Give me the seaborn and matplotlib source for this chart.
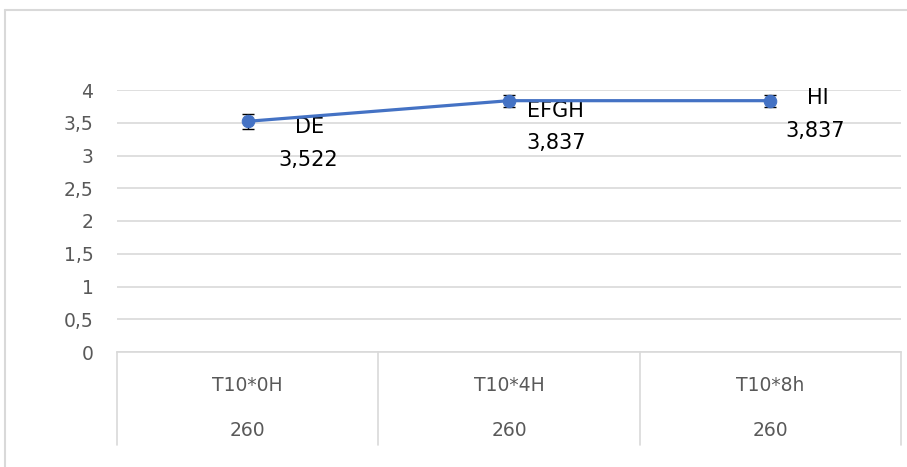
import numpy as np
import matplotlib
matplotlib.use("Agg")
import matplotlib.pyplot as plt
import matplotlib.transforms as mtransforms
from matplotlib.lines import Line2D
from matplotlib.ticker import FuncFormatter, MultipleLocator
import seaborn as sns

# --- data ---
treatments = ["T10*0H", "T10*4H", "T10*8h"]
counts = ["260", "260", "260"]
means = [3.522, 3.837, 3.837]
errors = [0.11, 0.09, 0.09]
groups = ["DE", "EFGH", "HI"]

# label offsets in pixels (name, value) relative to each point
name_offsets = [(62, -6), (46, -10), (47, 3)]
value_offsets = [(61, -39), (47, -42), (45, -30)]

sns.set_theme(style="white")
plt.rcParams["font.family"] = ["DejaVu Sans"]

W, H = 907, 467
fig = plt.figure(figsize=(W / 100, H / 100), dpi=100)
ax = fig.add_axes([117 / W, 1 - 352 / H, (901 - 117) / W, (352 - 90) / H])

line_color = "#4472C4"
grid_color = "#d9d9d9"
text_gray = "#595959"

x = np.arange(len(treatments))
ax.errorbar(x, means, yerr=errors, fmt="none", ecolor="black", elinewidth=1,
            capsize=4, capthick=1, zorder=3, clip_on=False)
sns.lineplot(x=x, y=means, ax=ax, color=line_color, linewidth=2.3, marker="o",
             markersize=9, markeredgecolor=line_color, zorder=4, clip_on=False)

ax.set_xlim(-0.5, len(treatments) - 0.5)
ax.set_ylim(0, 4)
ax.yaxis.set_major_locator(MultipleLocator(0.5))
ax.yaxis.set_major_formatter(FuncFormatter(lambda v, p: f"{v:g}".replace(".", ",")))
ax.tick_params(axis="y", length=0, labelsize=13.5, labelcolor=text_gray, pad=17)
ax.set_xticks([])
ax.grid(axis="y", color=grid_color, linewidth=1.2)
ax.set_axisbelow(True)
for side in ["top", "right", "left"]:
    ax.spines[side].set_visible(False)
ax.spines["bottom"].set_color(grid_color)
ax.spines["bottom"].set_linewidth(1.2)
ax.set_xlabel("")
ax.set_ylabel("")

# multi-level category axis
trans = mtransforms.blended_transform_factory(ax.transData, ax.transAxes)
for b in np.arange(len(treatments) + 1) - 0.5:
    ax.add_line(Line2D([b, b], [0, -0.355], transform=trans, color=grid_color,
                       linewidth=1.2, clip_on=False))
for i, (t, n) in enumerate(zip(treatments, counts)):
    ax.text(i, -0.126, t, transform=trans, ha="center", va="center",
            fontsize=13.5, color=text_gray)
    ax.text(i, -0.298, n, transform=trans, ha="center", va="center",
            fontsize=13.5, color=text_gray)

# data labels
for i, (g, m) in enumerate(zip(groups, means)):
    ax.annotate(g, (i, m), xytext=name_offsets[i], textcoords="offset pixels",
                ha="center", va="center", fontsize=15, color="black")
    ax.annotate(f"{m:.3f}".replace(".", ","), (i, m), xytext=value_offsets[i],
                textcoords="offset pixels", ha="center", va="center",
                fontsize=15, color="black")

# chart border (only top and left visible in the crop)
top = 1 - 10 / H
left = 5 / W
fig.add_artist(Line2D([left, 1.01], [top, top], transform=fig.transFigure,
                      color=grid_color, linewidth=1.5))
fig.add_artist(Line2D([left, left], [-0.01, top], transform=fig.transFigure,
                      color=grid_color, linewidth=1.5))

fig.savefig("out.png", dpi=100, facecolor="white")
